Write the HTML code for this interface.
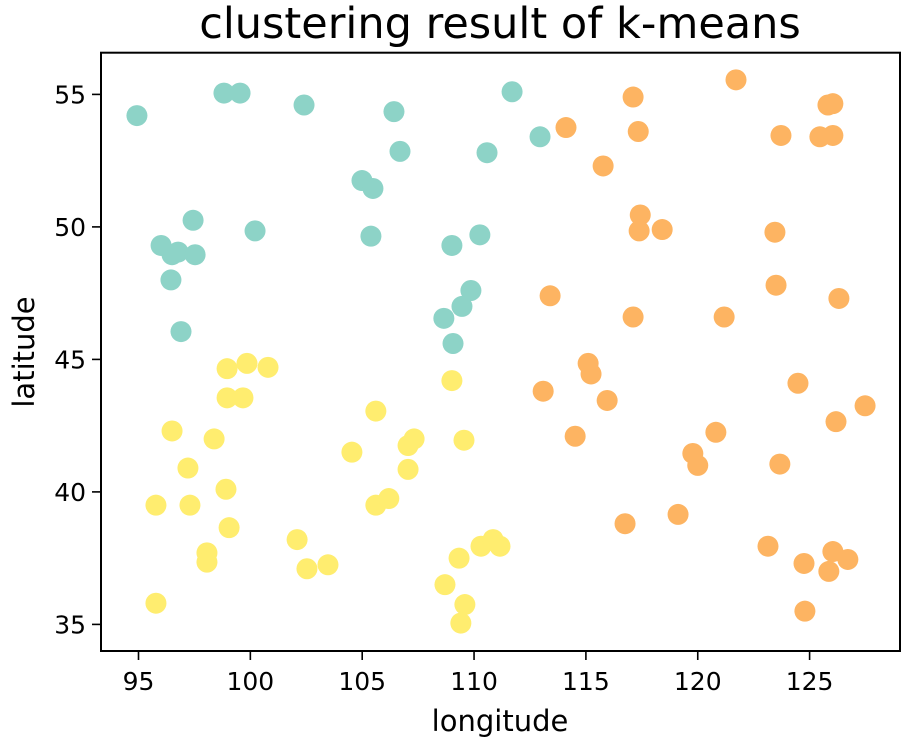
<!DOCTYPE html>
<html><head><meta charset="utf-8"><style>
html,body{margin:0;padding:0;background:#fff;}
svg{display:block;font-family:"DejaVu Sans","Liberation Sans",sans-serif;}
</style></head><body>
<svg id="chart" width="905" height="745" viewBox="0 0 905 745">
<text x="500" y="38" font-size="43" text-anchor="middle" fill="#000">clustering result of k-means</text>
<g id="marks"></g>
<rect x="101" y="52.7" width="799" height="598.3" fill="none" stroke="#000" stroke-width="2"/>
<g id="axes"></g>
<text x="500" y="731" font-size="29" text-anchor="middle">longitude</text>
<text transform="translate(34,352) rotate(-90)" font-size="29" text-anchor="middle">latitude</text>
</svg>
<script>
const xTicks = [95,100,105,110,115,120,125];
const yTicks = [35,40,45,50,55];
const c0Lon = [94.93,98.82,99.54,102.40,111.70,106.42,112.95,106.69,110.58,104.99,105.48,105.39,109.01,110.26,97.44,100.21,96.01,96.50,96.77,97.53,96.45,96.90,109.86,109.46,108.65,109.06];
const c0Lat = [54.2,55.05,55.05,54.6,55.1,54.35,53.4,52.85,52.8,51.75,51.45,49.65,49.3,49.7,50.25,49.85,49.3,48.95,49.05,48.95,48.0,46.05,47.6,47.0,46.55,45.6];
const c1Lon = [98.96,99.85,100.79,98.96,99.67,96.50,98.38,109.01,105.61,104.54,109.55,107.05,107.32,107.05,97.21,98.91,97.30,95.78,99.05,105.61,106.19,102.09,98.06,98.06,102.53,103.47,109.33,108.70,109.59,109.41,95.78,110.31,110.85,111.16];
const c1Lat = [44.65,44.85,44.7,43.55,43.55,42.3,42.0,44.2,43.05,41.5,41.95,41.75,42.0,40.85,40.9,40.1,39.5,39.5,38.65,39.5,39.75,38.2,37.7,37.35,37.1,37.25,37.5,36.5,35.75,35.05,35.8,37.95,38.2,37.95];
const c2Lon = [121.71,117.11,114.11,117.34,115.77,123.72,125.82,126.04,125.46,126.04,117.43,117.38,118.41,123.45,123.50,126.31,121.18,117.11,113.40,115.10,115.23,115.95,113.09,114.52,124.48,127.48,126.18,120.81,119.78,120.00,123.67,116.75,119.12,123.14,124.75,126.04,125.86,126.71,124.79];
const c2Lat = [55.55,54.9,53.75,53.6,52.3,53.45,54.6,54.65,53.4,53.45,50.45,49.85,49.9,49.8,47.8,47.3,46.6,46.6,47.4,44.85,44.45,43.45,43.8,42.1,44.1,43.25,42.65,42.25,41.45,41.0,41.05,38.8,39.15,37.95,37.3,37.75,37.0,37.45,35.5];

const NS = "http://www.w3.org/2000/svg";
function xs(v){ return 138.5 + (v - 95) * 22.37; }
function ys(v){ return 94.4 + (55 - v) * 26.5; }
const marks = document.getElementById('marks');
const axes = document.getElementById('axes');
function drawCluster(lons, lats, color, name){
  for (let i = 0; i < lons.length; i++){
    const c = document.createElementNS(NS, 'circle');
    c.setAttribute('cx', xs(lons[i]));
    c.setAttribute('cy', ys(lats[i]));
    c.setAttribute('r', 10.5);
    c.setAttribute('fill', color);
    
    
    marks.appendChild(c);
  }
}
drawCluster(c0Lon, c0Lat, '#8dd3c7', 'cluster-teal-point');
drawCluster(c1Lon, c1Lat, '#ffed6f', 'cluster-yellow-point');
drawCluster(c2Lon, c2Lat, '#fdb462', 'cluster-orange-point');

xTicks.forEach(t => {
  const l = document.createElementNS(NS, 'line');
  l.setAttribute('x1', xs(t)); l.setAttribute('x2', xs(t));
  l.setAttribute('y1', 651); l.setAttribute('y2', 660);
  l.setAttribute('stroke', '#000'); l.setAttribute('stroke-width', 1.6);
  
  
  axes.appendChild(l);
  const tx = document.createElementNS(NS, 'text');
  tx.setAttribute('x', xs(t)); tx.setAttribute('y', 690);
  tx.setAttribute('font-size', 25); tx.setAttribute('text-anchor', 'middle');
  tx.textContent = t;
  
  
  axes.appendChild(tx);
});
yTicks.forEach(t => {
  const l = document.createElementNS(NS, 'line');
  l.setAttribute('x1', 92); l.setAttribute('x2', 101);
  l.setAttribute('y1', ys(t)); l.setAttribute('y2', ys(t));
  l.setAttribute('stroke', '#000'); l.setAttribute('stroke-width', 1.6);
  
  
  axes.appendChild(l);
  const tx = document.createElementNS(NS, 'text');
  tx.setAttribute('x', 86); tx.setAttribute('y', ys(t) + 9);
  tx.setAttribute('font-size', 25); tx.setAttribute('text-anchor', 'end');
  tx.textContent = t;
  
  
  axes.appendChild(tx);
});
</script>
</body></html>
